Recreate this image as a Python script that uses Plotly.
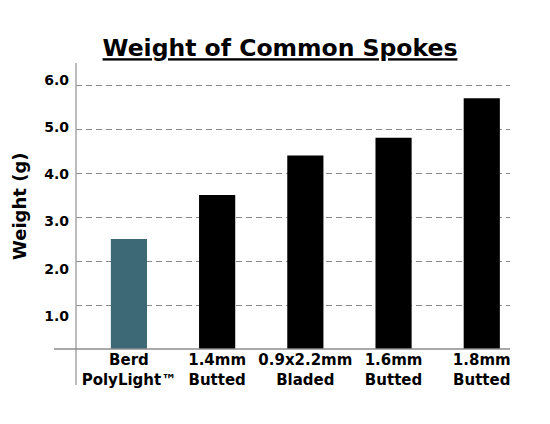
import plotly.graph_objects as go

categories = ["Berd<br>PolyLight™", "1.4mm<br>Butted", "0.9x2.2mm<br>Bladed", "1.6mm<br>Butted", "1.8mm<br>Butted"]
weights = [2.5, 3.5, 4.4, 4.8, 5.7]
bar_colors = ["#3d6976", "#000000", "#000000", "#000000", "#000000"]
y_ticks = [1, 2, 3, 4, 5, 6]
y_tick_labels = ["1.0", "2.0", "3.0", "4.0", "5.0", "6.0"]

FONT = "DejaVu Sans"
# page body has an 8px margin; figure sized to fit the remaining window
W, H = 542, 416

fig = go.Figure()
fig.add_trace(go.Bar(
    x=categories, y=weights, marker=dict(color=bar_colors, line=dict(width=0)),
    width=0.41, hoverinfo="skip", showlegend=False,
))
# invisible trace to carry the label axis
fig.add_trace(go.Scatter(
    x=categories, y=weights, yaxis="y2", mode="markers",
    marker=dict(opacity=0), hoverinfo="skip", showlegend=False,
))

fig.update_layout(
    width=W, height=H,
    margin=dict(l=68, r=40, t=55, b=75),
    paper_bgcolor="white", plot_bgcolor="white",
    font=dict(family=FONT, color="black"),
    title=dict(
        text="<b><u>Weight of Common Spokes</u></b>",
        font=dict(family=FONT, size=23.5, color="black"),
        x=272 / W, xanchor="center", xref="container",
        y=1 - 40 / H, yanchor="middle", yref="container",
    ),
    xaxis=dict(
        range=[-0.6, 4.32], showgrid=False, zeroline=False, showline=False,
        ticks="", tickfont=dict(family=FONT, size=15, color="black", weight="bold"),
        fixedrange=True,
    ),
    yaxis=dict(
        range=[0, 6.5], tickvals=y_ticks, showticklabels=False,
        showgrid=True, gridcolor="#8a8a8a", griddash="6px,4px", gridwidth=1,
        zeroline=False, showline=False, ticks="",
    ),
    yaxis2=dict(
        overlaying="y", side="left", range=[0.293, 6.365],
        tickvals=y_ticks, ticktext=y_tick_labels,
        tickfont=dict(family=FONT, size=14, color="black", weight="bold"),
        showgrid=False, zeroline=False, showline=False, ticks="", ticklabelstandoff=6,
    ),
    annotations=[dict(
        text="<b>Weight (g)</b>", textangle=-90, showarrow=False,
        xref="paper", yref="paper", x=(19 - 76) / 434, y=0.5,
        xanchor="center", yanchor="middle",
        font=dict(family=FONT, size=18, color="black"),
    )],
    shapes=[
        # vertical axis line (extends below baseline)
        dict(type="line", xref="paper", yref="paper", x0=0, x1=0,
             y0=(349 - 385) / 286, y1=1, line=dict(color="#a6a6a6", width=1.5)),
        # baseline (extends left of axis)
        dict(type="line", xref="paper", yref="paper", x0=(54 - 76) / 434, x1=1,
             y0=0, y1=0, line=dict(color="#8c8c8c", width=1.5)),
    ],
)

fig.write_html("out.html")
